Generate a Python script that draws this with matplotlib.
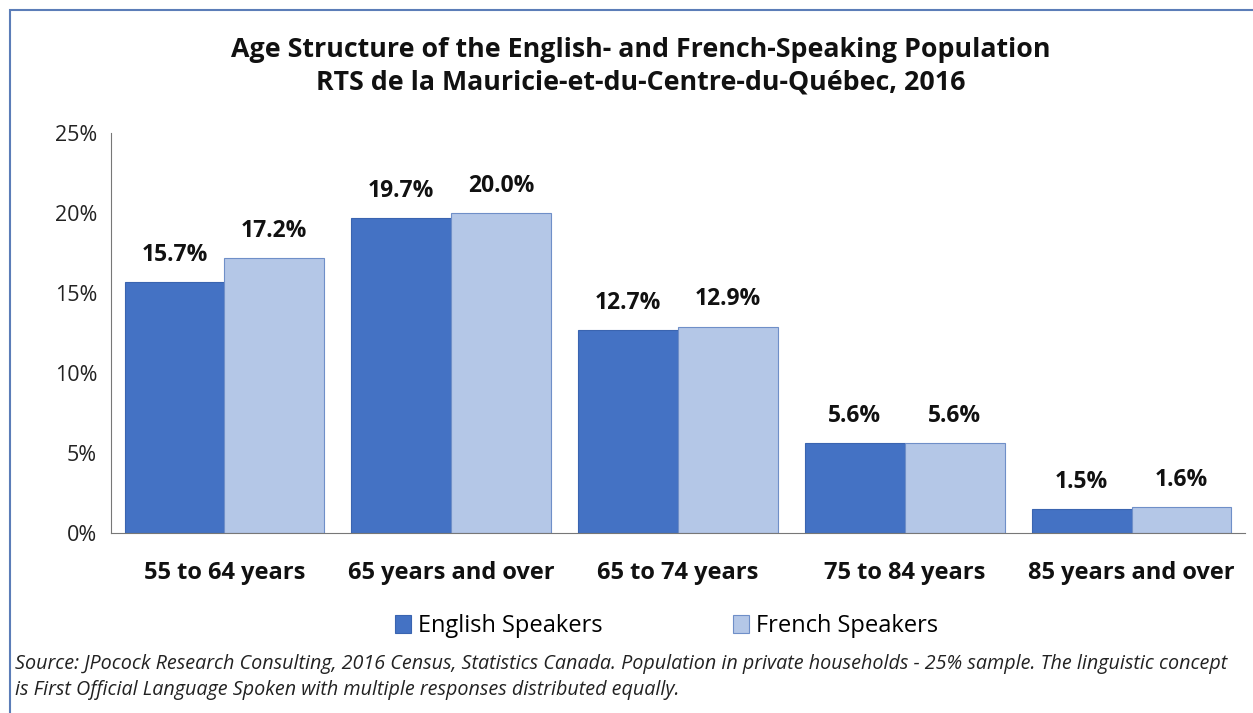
import matplotlib.pyplot as plt
import numpy as np
from matplotlib.patches import Rectangle

categories = ["55 to 64 years", "65 years and over", "65 to 74 years", "75 to 84 years", "85 years and over"]
english = [15.7, 19.7, 12.7, 5.6, 1.5]
french = [17.2, 20.0, 12.9, 5.6, 1.6]
yticks = [0, 5, 10, 15, 20, 25]

plt.rcParams['font.family'] = ['Open Sans', 'DejaVu Sans']

fig = plt.figure(figsize=(12.53, 7.13), dpi=100)
fig.patch.set_facecolor("white")

# frame of the original screenshot
fig.patches.append(Rectangle((10 / 1253, -0.01), 1.2, 1 - 10 / 713 + 0.01, transform=fig.transFigure,
                             fill=False, edgecolor="#5B7DB8", linewidth=1.5))

ax = fig.add_axes([111 / 1253, 1 - 533 / 713, (1245 - 111) / 1253, 400 / 713])
x = np.arange(len(categories))
w = 0.44
b1 = ax.bar(x - w / 2, english, w, color="#4472C4", edgecolor="#3A64B0", linewidth=0.8, label="English Speakers")
b2 = ax.bar(x + w / 2, french, w, color="#B4C7E7", edgecolor="#6F8FC8", linewidth=0.8, label="French Speakers")

for bars, vals in ((b1, english), (b2, french)):
    for r, v in zip(bars, vals):
        ax.annotate(f"{v:.1f}%", (r.get_x() + r.get_width() / 2, v), xytext=(0, 11),
                    textcoords="offset points", ha="center", va="bottom",
                    fontsize=16.5, fontweight="bold", color="#111111")

ax.set_xlim(-0.5, len(categories) - 0.5)
ax.set_ylim(0, 25)
ax.set_yticks(yticks)
ax.set_yticklabels([f"{t}%" for t in yticks], fontsize=15.5, color="#222222")
ax.set_xticks(x)
ax.set_xticklabels(categories, fontsize=17, fontweight="bold", color="#111111")
ax.tick_params(axis="both", length=0)
ax.tick_params(axis="x", pad=20)
ax.tick_params(axis="y", pad=10)
for s in ("top", "right"):
    ax.spines[s].set_visible(False)
ax.spines["left"].set_color("#777777")
ax.spines["bottom"].set_color("#777777")
ax.set_facecolor("white")

fig.text(0.511, 1 - 50 / 713, "Age Structure of the English- and French-Speaking Population",
         ha="center", va="center", fontsize=19.3, fontweight="bold", color="#111111")
fig.text(0.511, 1 - 83 / 713, "RTS de la Mauricie-et-du-Centre-du-Québec, 2016",
         ha="center", va="center", fontsize=19.3, fontweight="bold", color="#111111")

fig.legend(handles=[b1, b2], loc="center", bbox_to_anchor=(0.532, 1 - 626 / 713), ncol=2,
           frameon=False, fontsize=17, handlelength=0.7, handleheight=0.8,
           handletextpad=0.3, columnspacing=5.5)

fig.text(15 / 1253, 1 - 664 / 713,
         "Source: JPocock Research Consulting, 2016 Census, Statistics Canada. Population in private households - 25% sample. The linguistic concept",
         ha="left", va="center", fontsize=14.2, style="italic", color="#222222")
fig.text(15 / 1253, 1 - 690 / 713,
         "is First Official Language Spoken with multiple responses distributed equally.",
         ha="left", va="center", fontsize=14.2, style="italic", color="#222222")

fig.savefig("out.png", dpi=100)
